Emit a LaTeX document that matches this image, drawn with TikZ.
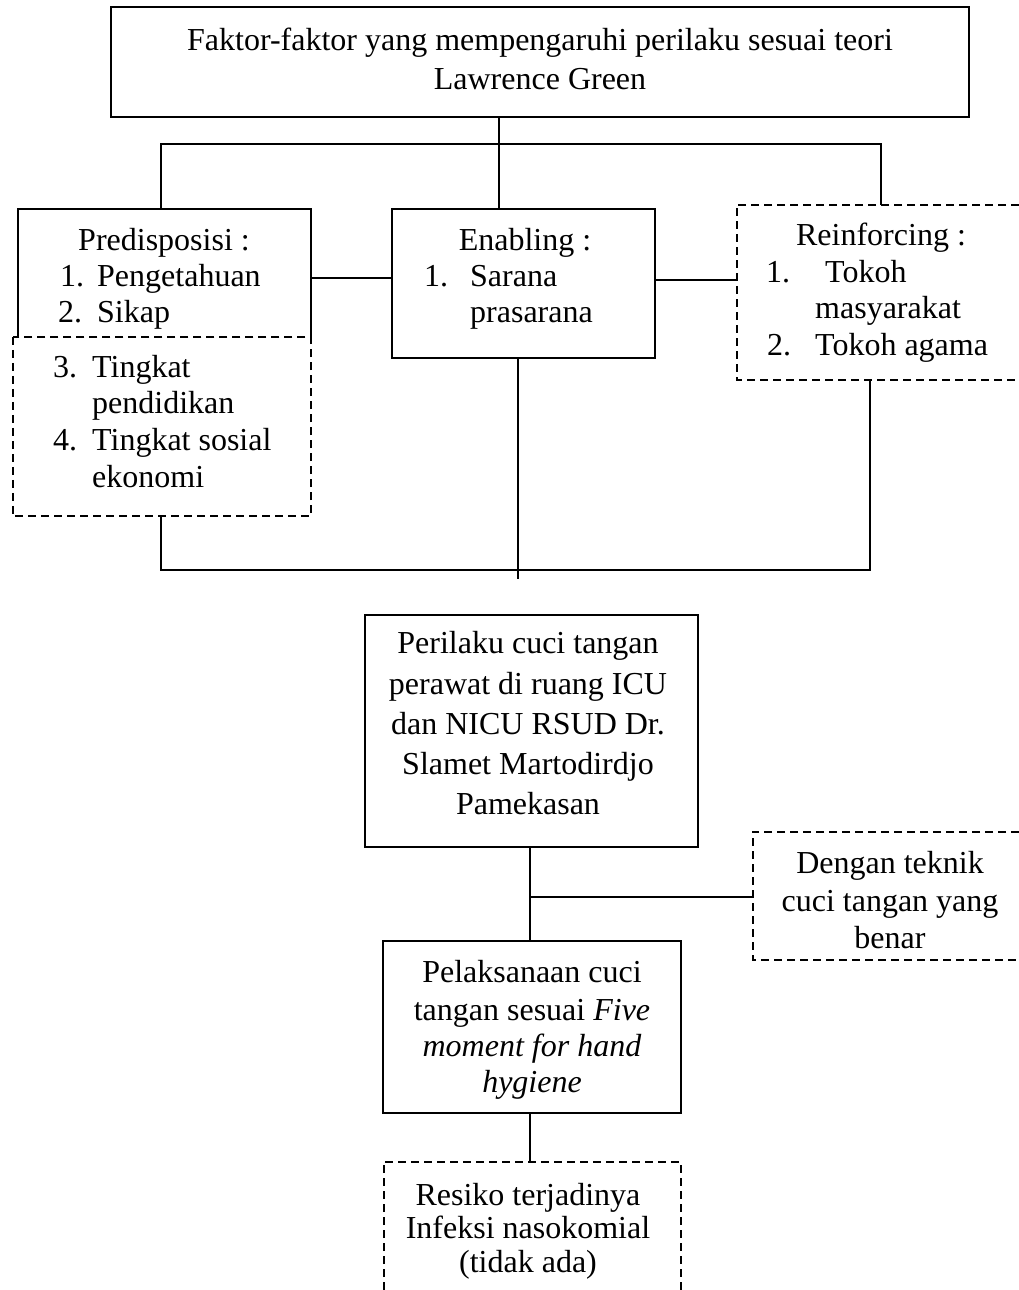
\documentclass[tikz,border=0pt]{standalone}
\usepackage{fontspec}
\setmainfont{Liberation Serif}
\begin{document}
\begin{tikzpicture}[x=1pt,y=-1pt,
  solidbox/.style={draw, line width=1.8pt, inner sep=0pt},
  openbox/.style={draw=none, inner sep=0pt},
  dline/.style={line width=1.6pt, dash pattern=on 8pt off 5pt},
  sline/.style={line width=1.8pt},
  conn/.style={line width=1.8pt},
  txt/.style={inner sep=0pt, font=\fontsize{32}{37}\selectfont},
]
\useasboundingbox (0,0) rectangle (1019,1290);

% boxes
\node[solidbox, minimum width=858pt, minimum height=110pt] (top) at (540,62) {};
\node[openbox, minimum width=293pt, minimum height=128pt] (pred) at (164.5,273) {};
\node[openbox, minimum width=298pt, minimum height=179pt] (predb) at (162,426.5) {};
\node[solidbox, minimum width=263pt, minimum height=149pt] (enab) at (523.5,283.5) {};
\node[openbox, minimum width=282pt, minimum height=175pt] (reinf) at (878,292.5) {};
\node[solidbox, minimum width=333pt, minimum height=232pt] (main) at (531.5,731) {};
\node[openbox, minimum width=266pt, minimum height=128pt] (dengan) at (886,896) {};
\node[solidbox, minimum width=298pt, minimum height=172pt] (pel) at (532,1027) {};
\node[openbox, minimum width=297pt, minimum height=128pt] (res) at (532.5,1226) {};

\draw[sline] (pred.south west) |- (pred.north east) -- (pred.south east);
\draw[dline] (predb.north west) rectangle (predb.south east);
\draw[dline] (reinf.north east) -| (reinf.south west) -- (reinf.south east);
\draw[dline] (dengan.north east) -| (dengan.south west) -- (dengan.south east);
\draw[dline] (res.south west) |- (res.north east) -- (res.south east);

% texts
\node[txt, anchor=base] (t1) at (540,51) {Faktor-faktor yang mempengaruhi perilaku sesuai teori};
\node[txt, anchor=base] (t2) at (540,89) {Lawrence Green};

\node[txt, anchor=base] (p0) at (164,250) {Predisposisi :};
\node[txt, anchor=base west] (p1n) at (60,286) {1.};
\node[txt, anchor=base west] (p1) at (97,286) {Pengetahuan};
\node[txt, anchor=base west] (p2n) at (58,322) {2.};
\node[txt, anchor=base west] (p2) at (97,322) {Sikap};
\node[txt, anchor=base west] (p3n) at (53,377) {3.};
\node[txt, anchor=base west] (p3) at (92,377) {Tingkat};
\node[txt, anchor=base west] (p3b) at (92,413) {pendidikan};
\node[txt, anchor=base west] (p4n) at (53,450) {4.};
\node[txt, anchor=base west] (p4) at (92,450) {Tingkat sosial};
\node[txt, anchor=base west] (p4b) at (92,487) {ekonomi};

\node[txt, anchor=base] (e0) at (525,250) {Enabling :};
\node[txt, anchor=base west] (e1n) at (424,286) {1.};
\node[txt, anchor=base west] (e1) at (470,286) {Sarana};
\node[txt, anchor=base west] (e1b) at (470,322) {prasarana};

\node[txt, anchor=base] (r0) at (881,245) {Reinforcing :};
\node[txt, anchor=base west] (r1n) at (766,282) {1.};
\node[txt, anchor=base west] (r1) at (825,282) {Tokoh};
\node[txt, anchor=base west] (r1b) at (815,318) {masyarakat};
\node[txt, anchor=base west] (r2n) at (767,355) {2.};
\node[txt, anchor=base west] (r2) at (815,355) {Tokoh agama};

\node[txt, anchor=base] (m1) at (528,653) {Perilaku cuci tangan};
\node[txt, anchor=base] (m2) at (528,694) {perawat di ruang ICU};
\node[txt, anchor=base] (m3) at (528,734) {dan NICU RSUD Dr.};
\node[txt, anchor=base] (m4) at (528,774) {Slamet Martodirdjo};
\node[txt, anchor=base] (m5) at (528,814) {Pamekasan};

\node[txt, anchor=base] (d1) at (890,873) {Dengan teknik};
\node[txt, anchor=base] (d2) at (890,911) {cuci tangan yang};
\node[txt, anchor=base] (d3) at (890,948) {benar};

\node[txt, anchor=base] (l1) at (532,982) {Pelaksanaan cuci};
\node[txt, anchor=base] (l2) at (532,1020) {tangan sesuai \textit{Five}};
\node[txt, anchor=base] (l3) at (532,1056) {\textit{moment for hand}};
\node[txt, anchor=base] (l4) at (532,1092) {\textit{hygiene}};

\node[txt, anchor=base] (s1) at (528,1205) {Resiko terjadinya};
\node[txt, anchor=base] (s2) at (528,1238) {Infeksi nasokomial};
\node[txt, anchor=base] (s3) at (528,1272) {(tidak ada)};

% connectors
\coordinate (jT) at (499,144);
\coordinate (hL) at (161,144);
\coordinate (hR) at (881,144);
\coordinate (cl) at (350,278);
\coordinate (cr) at (700,280);
\draw[conn] (top.south -| jT) -- (enab.north -| jT);
\draw[conn] (pred.north -| hL) -- (hL) -- (hR) -- (reinf.north -| hR);
\draw[conn] (pred.east |- cl) -- (enab.west |- cl);
\draw[conn] (enab.east |- cr) -- (reinf.west |- cr);

\coordinate (bL) at (161,570);
\coordinate (bR) at (870,570);
\coordinate (bM) at (518,570);
\coordinate (bEnd) at (518,579);
\draw[conn] (predb.south -| bL) -- (bL) -- (bR) -- (reinf.south -| bR);
\draw[conn] (enab.south -| bM) -- (bEnd);

\coordinate (jD) at (530,897);
\draw[conn] (main.south -| jD) -- (pel.north -| jD);
\draw[conn] (jD) -- (dengan.west |- jD);
\draw[conn] (pel.south -| jD) -- (res.north -| jD);
\end{tikzpicture}
\end{document}
